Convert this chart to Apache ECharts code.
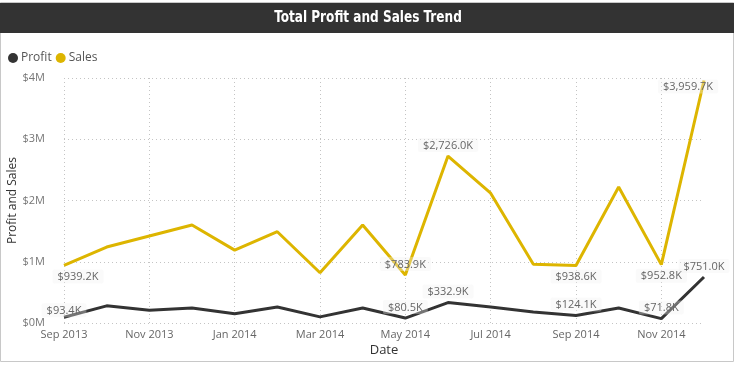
<!DOCTYPE html>
<html>
<head>
<meta charset="utf-8">
<script src="https://cdn.jsdelivr.net/npm/echarts@6/dist/echarts.min.js"></script>
<style>
html,body{margin:0;padding:0;background:#fff;}
#c{width:736px;height:365px;}
</style>
</head>
<body>
<div id="c"></div>
<script>
const months = ['Sep 2013','Oct 2013','Nov 2013','Dec 2013','Jan 2014','Feb 2014','Mar 2014','Apr 2014','May 2014','Jun 2014','Jul 2014','Aug 2014','Sep 2014','Oct 2014','Nov 2014','Dec 2014'];
// values in thousands of dollars
const salesK = [939.2, 1240, 1420, 1600, 1190, 1490, 820, 1600, 783.9, 2726.0, 2120, 960, 938.6, 2220, 952.8, 3959.7];
const profitK = [93.4, 280, 210, 245, 150, 260, 100, 245, 80.5, 332.9, 260, 180, 124.1, 245, 71.8, 751.0];
const yTicks = ['$0M','$1M','$2M','$3M','$4M'];
const titleText = 'Total Profit and Sales Trend';

const labelFont = 'Open Sans, Noto Sans, sans-serif';
function fmtK(v){
  return '$' + v.toLocaleString('en-US',{minimumFractionDigits:1, maximumFractionDigits:1}) + 'K';
}
const baseLabel = {
  show: true, color: '#666', fontSize: 11, fontFamily: labelFont,
  backgroundColor: 'rgba(240,240,240,0.35)', padding: [2,5,1,5], borderRadius: 2,
  formatter: p => fmtK(p.value / 1000)
};
const salesLabelCfg = {
  0: {position:'bottom', distance: 4, offset:[14,0]},
  8: {position:'top', distance: 4},
  9: {position:'top', distance: 4},
  12: {position:'bottom', distance: 4},
  14: {position:'bottom', distance: 4},
  15: {position:'top', distance: 0, offset:[-16,13]}
};
const profitLabelCfg = {
  0: {position:'top', distance: 0, offset:[13,10]},
  8: {position:'top', distance: 4},
  9: {position:'top', distance: 4},
  12: {position:'top', distance: 4},
  14: {position:'top', distance: 4},
  15: {position:'top', distance: 4, offset:[-11,0]}
};
function build(vals, cfg){
  return vals.map((v,i)=>{
    const item = {value: v*1000};
    if (cfg[i]) item.label = Object.assign({}, baseLabel, cfg[i]);
    return item;
  });
}

const chart = echarts.init(document.getElementById('c'), null, {renderer:'canvas'});
chart.setOption({
  animation: false,
  graphic: [
    {type:'rect', shape:{x:0.5,y:2.5,width:733,height:359}, style:{fill:'none', stroke:'#c8c8c8', lineWidth:1}, z:-1},
    {type:'rect', shape:{x:0,y:3,width:734,height:30}, style:{fill:'#333333'}},
    {type:'text', x:368, y:18, scaleX:0.84,
     style:{x:0, y:0, align:'center', verticalAlign:'middle', text:titleText, fill:'#fff', font:'bold 16px "DejaVu Sans Condensed", sans-serif'}}
  ],
  legend: {
    left: 3, top: 47, itemWidth: 10, itemHeight: 10, itemGap: 4, icon:'circle',
    textStyle:{color:'#555', fontSize:12, fontFamily: labelFont, padding:[0,0,0,-2]},
    data: ['Profit','Sales']
  },
  grid: {left: 64, right: 32, top: 78, bottom: 42, containLabel: false, outerBoundsMode: 'none'},
  xAxis: {
    type: 'category', data: months, boundaryGap: false,
    name: 'Date', nameLocation: 'middle', nameGap: 21, nameMoveOverlap: false,
    nameTextStyle: {color:'#333', fontSize: 13, fontFamily: labelFont},
    axisLine: {show:false}, axisTick: {show:false, interval:1},
    axisLabel: {interval: 1, color:'#666', fontSize: 11, fontFamily: labelFont, margin: 6},
    splitLine: {show:true, interval: 1, lineStyle:{color:'#c4c4c4', type:[1,3], width:1}}
  },
  yAxis: {
    type: 'value', min: 0, max: 4000000, interval: 1000000,
    name: 'Profit and Sales', nameLocation: 'middle', nameGap: 45, nameRotate: 90, nameMoveOverlap: false,
    nameTextStyle: {color:'#333', fontSize: 12, fontFamily: labelFont},
    axisLine:{show:false}, axisTick:{show:false},
    axisLabel: {color:'#777', fontSize: 11, fontFamily: labelFont, margin: 19,
      formatter: v => yTicks[Math.round(v/1000000)]},
    splitLine: {show:true, lineStyle:{color:'#c4c4c4', type:[1,3], width:1}}
  },
  series: [
    {name:'Profit', type:'line', data: build(profitK, profitLabelCfg), showSymbol:true, symbol:'circle', symbolSize:0.01,
     lineStyle:{width:3, color:'#333333'}, itemStyle:{color:'#333333'}, z:3,
     labelLayout:{hideOverlap:false}},
    {name:'Sales', type:'line', data: build(salesK, salesLabelCfg), showSymbol:true, symbol:'circle', symbolSize:0.01,
     lineStyle:{width:3, color:'#DDB500'}, itemStyle:{color:'#DDB500'}, z:2}
  ]
});
</script>
</body>
</html>
